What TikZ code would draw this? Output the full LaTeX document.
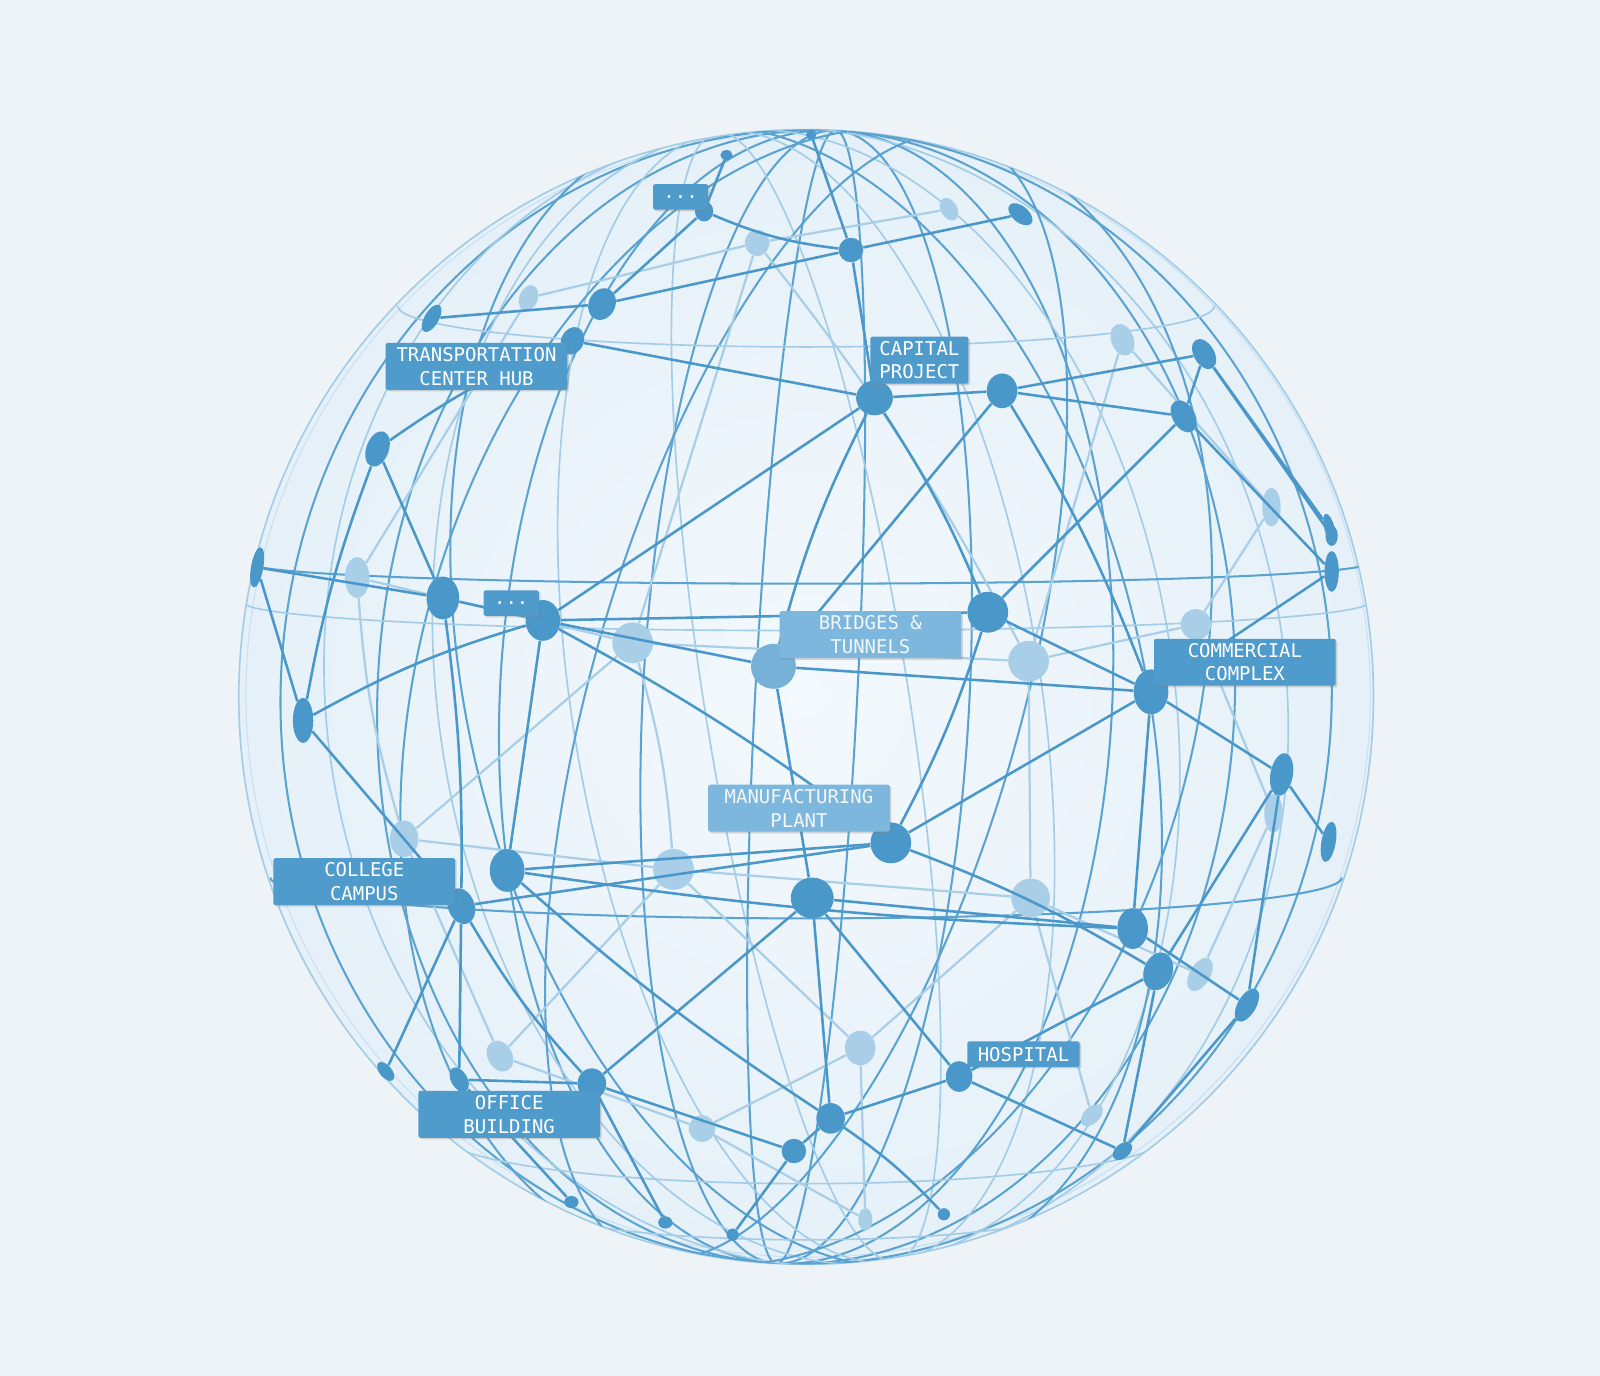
\documentclass[tikz,border=0pt]{standalone}
\usepackage{fontspec}
\setmonofont{DejaVu Sans Mono}
\usetikzlibrary{shapes.geometric,shadows}
\definecolor{bgc}{HTML}{EEF3F7}
\definecolor{globein}{HTML}{F3F9FD}
\definecolor{globeout}{HTML}{E5F0F8}
\definecolor{frontc}{HTML}{4A97C9}
\definecolor{backc}{HTML}{A9CFE8}
\definecolor{merc}{HTML}{5AA3D1}
\definecolor{merlight}{HTML}{A3CCE7}
\definecolor{labc}{HTML}{4F9BCB}
\definecolor{lablight}{HTML}{7DB7DD}
\begin{document}
\begin{tikzpicture}[x=0.5pt,y=-0.5pt,
  fn/.style n args={3}{ellipse,fill=frontc,draw=none,inner sep=0,minimum width=#1*0.5pt,minimum height=#2*0.5pt,rotate=#3},
  mn/.style n args={3}{ellipse,fill=frontc!75!white,draw=none,inner sep=0,minimum width=#1*0.5pt,minimum height=#2*0.5pt,rotate=#3},
  bn/.style n args={3}{ellipse,fill=backc,draw=none,inner sep=0,minimum width=#1*0.5pt,minimum height=#2*0.5pt,rotate=#3},
  fl/.style={draw=frontc,line width=1.25pt},
  bl/.style={draw=backc,line width=1.1pt},
  mer/.style={draw=merc,line width=1pt},
  merb/.style={draw=merlight,line width=0.8pt},
  lab/.style={fill=labc,text=white,font=\ttfamily\fontsize{9.3}{11.6}\selectfont,align=center,inner sep=0pt,minimum height=23pt,rounded corners=1pt,drop shadow={opacity=0.3,shadow xshift=0.8pt,shadow yshift=-0.8pt}},
  labl/.style={lab,fill=lablight,text=white!92!labc}]
\useasboundingbox (0,0) rectangle (1568,1348);
\fill[bgc] (0,0) rectangle (1568,1348);
\shade[inner color=globein,outer color=globeout] (790,683) circle (556);
\draw[draw=merlight,line width=0.8pt] (790,683) circle (556);
\draw[draw=merlight!60!white,line width=0.5pt] (792,681) circle (551);
\begin{scope}
\clip (790,683) circle (556);
% meridians
\foreach \r in {515,420,300,160,50}{
  \draw[mer,rotate around={-3:(790,683)}] (790,683) ellipse ({\r} and 556);
}
\foreach \r in {470,360,230,100}{
  \draw[merb,rotate around={9:(790,683)}] (790,683) ellipse ({\r} and 560);
}
\foreach \r in {380,210}{
  \draw[mer,rotate around={-16:(790,683)}] (790,683) ellipse ({\r} and 570);
}
\foreach \r in {330}{
  \draw[mer,rotate around={14:(790,683)}] (790,683) ellipse ({\r} and 570);
}
% latitude arcs (front halves)
\draw[mer] (1340,552) arc[start angle=0,end angle=180,x radius=548,y radius=20];
\draw[merb] (1342,590) arc[start angle=0,end angle=180,x radius=552,y radius=28];
\draw[mer] (1315,860) arc[start angle=0,end angle=180,x radius=525,y radius=40];
\draw[merb] (1150,1110) arc[start angle=0,end angle=180,x radius=360,y radius=50];
\draw[merb] (1190,300) arc[start angle=0,end angle=180,x radius=400,y radius=40];
\draw[merb] (1040,1185) arc[start angle=0,end angle=180,x radius=250,y radius=30];
\end{scope}
% back nodes
\node[bn={24}{26}{0}] (b1) at (742,238) {};
\node[bn={18}{26}{-20}] (b2) at (518,292) {};
\node[bn={16}{24}{30}] (b3) at (930,205) {};
\node[bn={22}{32}{20}] (b4) at (1100,333) {};
\node[bn={24}{40}{0}] (b5) at (350,566) {};
\node[bn={40}{40}{0}] (b6) at (620,630) {};
\node[bn={40}{40}{0}] (b7) at (1008,648) {};
\node[bn={30}{30}{0}] (b8) at (1172,612) {};
\node[bn={18}{38}{0}] (b9) at (1246,497) {};
\node[bn={18}{38}{0}] (b10) at (1248,797) {};
\node[bn={28}{36}{0}] (b11) at (396,822) {};
\node[bn={40}{40}{0}] (b12) at (660,852) {};
\node[bn={38}{38}{0}] (b13) at (1010,880) {};
\node[bn={20}{36}{-30}] (b14) at (1176,955) {};
\node[bn={24}{32}{30}] (b15) at (490,1035) {};
\node[bn={30}{34}{0}] (b16) at (843,1027) {};
\node[bn={26}{26}{0}] (b17) at (688,1106) {};
\node[bn={16}{26}{-45}] (b18) at (1070,1093) {};
\node[bn={14}{22}{0}] (b19) at (848,1195) {};
% back lines
\draw[bl] (b1) -- (b6);
\draw[bl] (b2) -- (b5);
\draw[bl] (b5) -- (b6);
\draw[bl] (b6) -- (b7);
\draw[bl] (b7) -- (b8);
\draw[bl] (b6) to[bend left=6] (b12);
\draw[bl] (b7) -- (b13);
\draw[bl] (b12) -- (b13);
\draw[bl] (b11) -- (b12);
\draw[bl] (b13) -- (b14);
\draw[bl] (b12) -- (b16);
\draw[bl] (b16) -- (b17);
\draw[bl] (b15) -- (b17);
\draw[bl] (b4) -- (b9);
\draw[bl] (b9) -- (b8);
\draw[bl] (b8) -- (b10);
\draw[bl] (b10) -- (b14);
\draw[bl] (b3) -- (b1);
\draw[bl] (b2) -- (b1);
\draw[bl] (b5) to[bend right=6] (b11);
\draw[bl] (b11) -- (b15);
\draw[bl] (b16) -- (b13);
\draw[bl] (b13) -- (b18);
\draw[bl] (b1) to[bend left=5] (b7);
\draw[bl] (b4) -- (b7);
\draw[bl] (b11) -- (b6);
\draw[bl] (b16) -- (b19);
\draw[bl] (b17) -- (b19);
\draw[bl] (b12) -- (b15);
% front nodes
\node[fn={24}{24}{0}] (a1) at (834,245) {};
\node[fn={26}{32}{-25}] (a2) at (590,298) {};
\node[fn={22}{28}{-25}] (a3) at (561,334) {};
\node[fn={18}{20}{0}] (a4) at (690,207) {};
\node[fn={36}{34}{0}] (a5) at (857,390) {};
\node[fn={30}{34}{0}] (a6) at (982,383) {};
\node[fn={22}{34}{30}] (a7) at (1160,408) {};
\node[fn={20}{32}{30}] (a8) at (1180,347) {};
\node[fn={22}{36}{-20}] (a9) at (370,440) {};
\node[fn={32}{42}{0}] (a10) at (434,586) {};
\node[fn={34}{40}{0}] (a11) at (532,608) {};
\node[mn={44}{44}{0}] (a12) at (758,653) {};
\node[fn={40}{40}{0}] (a13) at (968,600) {};
\node[fn={34}{44}{0}] (a14) at (1128,678) {};
\node[fn={20}{44}{0}] (a15) at (297,706) {};
\node[fn={22}{42}{-10}] (a16) at (1256,759) {};
\node[fn={14}{40}{0}] (a17) at (1305,560) {};
\node[fn={10}{30}{15}] (a18) at (1303,518) {};
\node[fn={12}{40}{-10}] (a19) at (252,556) {};
\node[fn={40}{40}{0}] (a20) at (873,826) {};
\node[fn={34}{42}{0}] (a21) at (497,853) {};
\node[fn={26}{36}{20}] (a22) at (452,888) {};
\node[fn={42}{40}{0}] (a23) at (796,880) {};
\node[fn={30}{40}{0}] (a24) at (1110,910) {};
\node[fn={28}{38}{-20}] (a25) at (1135,952) {};
\node[fn={18}{36}{-30}] (a26) at (1222,985) {};
\node[fn={14}{40}{-10}] (a27) at (1302,825) {};
\node[fn={26}{30}{0}] (a28) at (940,1055) {};
\node[fn={28}{30}{0}] (a29) at (580,1062) {};
\node[fn={28}{30}{0}] (a30) at (814,1096) {};
\node[fn={24}{24}{0}] (a31) at (778,1128) {};
\node[fn={16}{28}{50}] (a32) at (1000,210) {};
\node[fn={14}{30}{-30}] (a33) at (423,312) {};
\node[fn={10}{10}{0}] (a34) at (795,132) {};
\node[fn={12}{10}{0}] (a35) at (712,152) {};
\node[fn={16}{26}{30}] (a36) at (450,1058) {};
\node[fn={12}{22}{40}] (a37) at (378,1050) {};
\node[fn={14}{12}{0}] (a38) at (560,1178) {};
\node[fn={14}{12}{0}] (a39) at (652,1198) {};
\node[fn={12}{12}{0}] (a40) at (925,1190) {};
\node[fn={14}{22}{-50}] (a41) at (1100,1128) {};
\node[fn={12}{20}{0}] (a42) at (1305,525) {};
\node[fn={12}{12}{0}] (a43) at (718,1210) {};
% front lines
\draw[fl] (a2) -- (a1);
\draw[fl] (a1) -- (a32);
\draw[fl] (a4) to[bend right=8] (a1);
\draw[fl] (a1) -- (a5);
\draw[fl] (a3) -- (a5);
\draw[fl] (a5) -- (a6);
\draw[fl] (a6) -- (a7);
\draw[fl] (a6) -- (a8);
\draw[fl] (a5) -- (a11);
\draw[fl] (a5) to[bend left=5] (a13);
\draw[fl] (a5) to[bend right=6] (a12);
\draw[fl] (a6) -- (a12);
\draw[fl] (a6) to[bend left=5] (a14);
\draw[fl] (a13) -- (a7);
\draw[fl] (a13) -- (a14);
\draw[fl] (a11) -- (a13);
\draw[fl] (a11) -- (a12);
\draw[fl] (a12) -- (a14);
\draw[fl] (a12) -- (a23);
\draw[fl] (a11) to[bend left=4] (a20);
\draw[fl] (a11) -- (a21);
\draw[fl] (a10) -- (a11);
\draw[fl] (a10) -- (a19);
\draw[fl] (a10) -- (a9);
\draw[fl] (a10) to[bend left=4] (a22);
\draw[fl] (a15) to[bend left=6] (a11);
\draw[fl] (a15) to[bend left=5] (a9);
\draw[fl] (a15) -- (a22);
\draw[fl] (a15) -- (a19);
\draw[fl] (a21) -- (a20);
\draw[fl] (a22) -- (a20);
\draw[fl] (a21) to[bend right=3] (a24);
\draw[fl] (a23) -- (a24);
\draw[fl] (a20) -- (a14);
\draw[fl] (a20) to[bend right=5] (a13);
\draw[fl] (a20) to[bend left=5] (a25);
\draw[fl] (a23) -- (a28);
\draw[fl] (a23) -- (a29);
\draw[fl] (a23) -- (a30);
\draw[fl] (a22) to[bend right=6] (a29);
\draw[fl] (a28) -- (a30);
\draw[fl] (a28) -- (a25);
\draw[fl] (a29) -- (a31);
\draw[fl] (a30) -- (a31);
\draw[fl] (a14) -- (a16);
\draw[fl] (a14) -- (a24);
\draw[fl] (a16) -- (a26);
\draw[fl] (a24) -- (a26);
\draw[fl] (a16) -- (a27);
\draw[fl] (a17) -- (a14);
\draw[fl] (a17) -- (a7);
\draw[fl] (a8) -- (a18);
\draw[fl] (a9) to[bend left=6] (a3);
\draw[fl] (a2) -- (a33);
\draw[fl] (a29) -- (a36);
\draw[fl] (a22) -- (a36);
\draw[fl] (a22) -- (a37);
\draw[fl] (a36) -- (a38);
\draw[fl] (a29) -- (a39);
\draw[fl] (a31) -- (a43);
\draw[fl] (a30) to[bend left=6] (a40);
\draw[fl] (a28) -- (a41);
\draw[fl] (a25) -- (a41);
\draw[fl] (a4) -- (a35);
\draw[fl] (a1) -- (a34);
\draw[fl] (a2) -- (a4);
\draw[fl] (a7) -- (a8);
\draw[fl] (a16) -- (a25);
\draw[fl] (a21) to[bend right=4] (a30);
\draw[fl] (a8) -- (a42);
\draw[fl] (a26) -- (a41);
% labels
\node[lab,minimum width=27pt,minimum height=12.5pt] (l1) at (667,193) {...};
\node[lab,minimum width=89pt] (l2) at (467,359) {TRANSPORTATION\\CENTER HUB};
\node[lab,minimum width=48pt] (l3) at (901,353) {CAPITAL\\PROJECT};
\node[lab,minimum width=27pt,minimum height=12.5pt] (l4) at (501,591) {...};
\node[labl,minimum width=89pt] (l5) at (853,622) {BRIDGES \&\\TUNNELS};
\node[lab,minimum width=89pt] (l6) at (1220,649) {COMMERCIAL\\COMPLEX};
\node[labl,minimum width=89pt] (l7) at (783,792) {MANUFACTURING\\PLANT};
\node[lab,minimum width=89pt] (l8) at (357,864) {COLLEGE\\CAMPUS};
\node[lab,minimum width=55pt,minimum height=12.5pt] (l9) at (1003,1033) {HOSPITAL};
\node[lab,minimum width=89pt] (l10) at (499,1092) {OFFICE\\BUILDING};
\end{tikzpicture}
\end{document}
